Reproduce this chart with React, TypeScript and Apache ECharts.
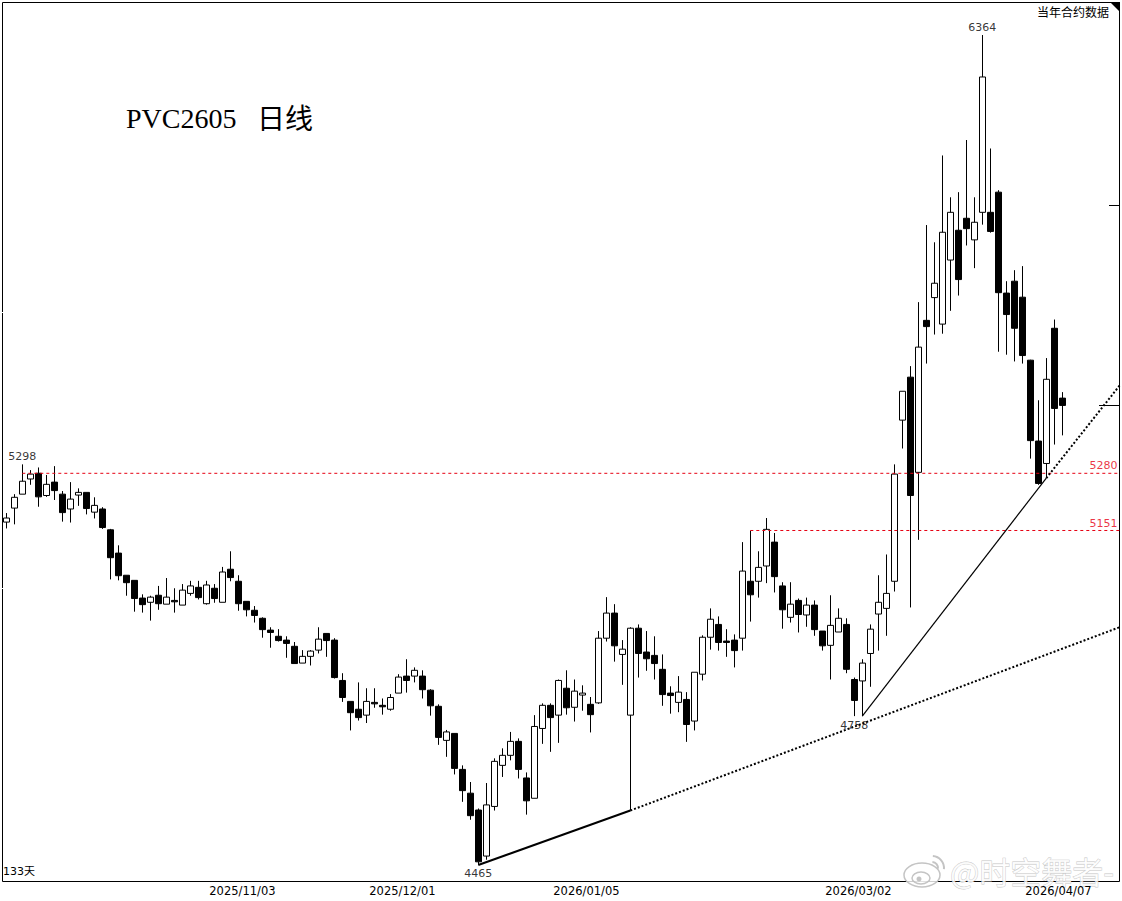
import React, { useEffect, useRef } from 'react';
import * as echarts from 'echarts';

// daily candles, oldest first (133 sessions)
const opens = [
  5169, 5200, 5231, 5265, 5278, 5228, 5258, 5231, 5198, 5229,
  5235, 5191, 5198, 5152, 5101, 5053, 5042, 5004, 4995, 5010,
  4991, 4999, 4989, 5014, 5027, 4992, 5025, 4995, 5066, 5040,
  4997, 4978, 4961, 4936, 4923, 4915, 4902, 4867, 4881, 4894,
  4929, 4915, 4831, 4788, 4772, 4760, 4786, 4780, 4772, 4805,
  4840, 4840, 4840, 4811, 4778, 4709, 4723, 4651, 4604, 4571,
  4482, 4578, 4659, 4679, 4707, 4634, 4594, 4733, 4780, 4760,
  4815, 4776, 4801, 4782, 4785, 4919, 4972, 4885, 4760, 4940,
  4890, 4883, 4854, 4805, 4786, 4792, 4748, 4844, 4921, 4948,
  4913, 4915, 4919, 5040, 5040, 5073, 5125, 5030, 4963, 4999,
  4968, 4989, 4934, 4904, 4932, 4948, 4833, 4830, 4887, 4970,
  4982, 5040, 5399, 5499, 5280, 5634, 5689, 5625, 5781, 5855,
  5885, 5831, 5900, 5900, 5951, 5700, 5729, 5690, 5539, 5351,
  5300, 5615, 5450,
];
const closes = [
  5178, 5224, 5260, 5276, 5225, 5253, 5239, 5190, 5220, 5235,
  5199, 5206, 5157, 5091, 5052, 5037, 5003, 4990, 5006, 4992,
  5006, 4996, 5021, 5030, 5005, 5032, 5003, 5060, 5048, 4992,
  4979, 4967, 4937, 4931, 4914, 4908, 4866, 4881, 4892, 4917,
  4914, 4837, 4796, 4765, 4755, 4788, 4783, 4777, 4796, 4838,
  4831, 4852, 4812, 4779, 4715, 4726, 4653, 4609, 4560, 4471,
  4581, 4667, 4679, 4707, 4651, 4589, 4737, 4780, 4755, 4831,
  4775, 4809, 4805, 4761, 4919, 4972, 4903, 4896, 4940, 4887,
  4876, 4866, 4802, 4800, 4807, 4741, 4848, 4921, 4959, 4910,
  4910, 4893, 5062, 5011, 5070, 5153, 5050, 4979, 4991, 4969,
  4989, 4937, 4903, 4946, 4961, 4854, 4790, 4867, 4938, 4995,
  5014, 5276, 5466, 5228, 5570, 5619, 5724, 5850, 5900, 5733,
  5859, 5875, 6251, 5852, 5701, 5648, 5615, 5550, 5352, 5255,
  5494, 5426, 5433,
];
const lows = [
  5155, 5164, 5231, 5252, 5203, 5225, 5218, 5170, 5168, 5205,
  5186, 5177, 5154, 5044, 5042, 5009, 4975, 4973, 4956, 4979,
  4991, 4973, 4989, 5009, 5001, 4990, 4994, 4995, 5040, 4977,
  4965, 4952, 4920, 4899, 4912, 4878, 4866, 4867, 4862, 4887,
  4880, 4835, 4787, 4729, 4749, 4744, 4775, 4761, 4769, 4805,
  4806, 4827, 4794, 4759, 4700, 4676, 4641, 4587, 4552, 4465,
  4475, 4570, 4636, 4669, 4633, 4562, 4594, 4702, 4686, 4704,
  4761, 4747, 4769, 4725, 4783, 4912, 4870, 4822, 4570, 4837,
  4851, 4833, 4779, 4763, 4766, 4706, 4729, 4831, 4895, 4893,
  4880, 4858, 4893, 4954, 5005, 5036, 5016, 4939, 4952, 4931,
  4943, 4924, 4893, 4833, 4932, 4846, 4758, 4758, 4818, 4893,
  4924, 5018, 5334, 4984, 5130, 5531, 5600, 5602, 5657, 5694,
  5817, 5761, 5869, 5849, 5559, 5552, 5536, 5531, 5311, 5252,
  5267, 5343, 5364,
];
const highs = [
  5189, 5231, 5298, 5285, 5291, 5274, 5294, 5238, 5258, 5244,
  5235, 5224, 5202, 5154, 5118, 5053, 5042, 5012, 5009, 5030,
  5047, 5025, 5034, 5041, 5041, 5041, 5034, 5071, 5105, 5053,
  4997, 4987, 4963, 4942, 4938, 4923, 4911, 4894, 4894, 4942,
  4929, 4919, 4846, 4788, 4827, 4815, 4815, 4794, 4803, 4844,
  4875, 4858, 4852, 4813, 4782, 4730, 4723, 4659, 4626, 4574,
  4624, 4673, 4693, 4726, 4713, 4645, 4760, 4784, 4784, 4833,
  4852, 4833, 4821, 4797, 4934, 5006, 4991, 4915, 4942, 4948,
  4934, 4923, 4885, 4819, 4840, 4807, 4848, 4925, 4982, 4965,
  4938, 4927, 5125, 5150, 5105, 5178, 5145, 5038, 5038, 5003,
  5005, 4999, 4934, 5010, 4982, 4961, 4837, 4875, 4948, 5053,
  5098, 5298, 5466, 5525, 5678, 5868, 5825, 6045, 5938, 5951,
  6085, 5938, 6364, 6063, 5956, 5729, 5756, 5766, 5540, 5445,
  5544, 5636, 5464,
];

// session index of each date printed under the chart
const dateTicks = [25, 45, 68, 102, 127];
const dateLabels = ['2025/11/03', '2025/12/01', '2026/01/05', '2026/03/02', '2026/04/07'];

// the x axis runs past the last candle, the drawn lines end at its right edge
const X_MIN = -0.475;
const X_MAX = 139.15;
const Y_MIN = 4433.6;
const Y_MAX = 6453;

const lowerTrendSolid = [[59, 4465], [78, 4570]];
const lowerTrendDotted = [[78, 4570], [X_MAX, 4942]];
const upperTrendSolid = [[107, 4758], [130, 5267]];
const upperTrendDotted = [[130, 5267], [X_MAX, 5479]];

// levels as they sit in the picture, the printed numbers are in levelLabels
const level5280 = [[2, 5277.8], [X_MAX, 5277.8]];
const level5151 = [[93, 5150.5], [X_MAX, 5150.5]];
const levelLabels = [[137.15, 5280], [137.15, 5151]];

const peakLabels = [[122, 6364], [2, 5298]];
const troughLabels = [[106, 4758], [59, 4465]];

const LABEL_FONT = '"DejaVu Sans", "Noto Sans CJK SC", sans-serif';
const CJK_FONT = '"Noto Sans CJK SC", sans-serif';
const RED = '#e60012';

const lineSeries = (data: number[][], width: number, type: any, color = '#000') => ({
  type: 'line',
  data,
  showSymbol: false,
  symbol: 'none',
  silent: true,
  lineStyle: { color, width, type },
});

const labelSeries = (data: number[][], position: string, distance: number, color = '#000') => ({
  type: 'scatter',
  data,
  symbolSize: 1,
  silent: true,
  itemStyle: { color: 'rgba(0,0,0,0)' },
  label: {
    show: true,
    position,
    distance,
    color,
    fontFamily: LABEL_FONT,
    fontSize: 11,
    formatter: (p: any) => String(p.value[1]),
  },
});

const WATERMARK_STROKE = 'rgba(190,190,190,0.9)';
const WATERMARK_FILL = 'rgba(255,255,255,0.8)';

const App: React.FC = () => {
  const chartRef = useRef<HTMLDivElement>(null);

  useEffect(() => {
    if (!chartRef.current) return;
    document.body.style.margin = '0';
    const chart = echarts.init(chartRef.current, undefined, { renderer: 'svg' });

    const candles = opens.map((o, i) => [i, o, closes[i], lows[i], highs[i]]);

    chart.setOption({
      animation: false,
      backgroundColor: '#fff',
      grid: {
        show: true,
        left: 2.5,
        right: 2.5,
        top: 2.5,
        bottom: 19.5,
        borderColor: '#000',
        borderWidth: 1,
      },
      xAxis: {
        type: 'value',
        min: X_MIN,
        max: X_MAX,
        splitLine: { show: false },
        axisLine: { show: false },
        axisTick: { show: false },
        axisLabel: {
          customValues: dateTicks,
          formatter: (v: number) => dateLabels[dateTicks.indexOf(v)],
          align: 'left',
          margin: 4,
          padding: [0, 0, 0, 3],
          color: '#000',
          fontFamily: LABEL_FONT,
          fontSize: 11.5,
        },
      },
      yAxis: {
        type: 'log',
        min: Y_MIN,
        max: Y_MAX,
        splitLine: { show: false },
        axisLine: { show: false },
        axisTick: { show: false },
        axisLabel: { show: false },
      },
      series: [
        {
          type: 'candlestick',
          data: candles,
          barWidth: 6,
          silent: true,
          itemStyle: {
            color: '#fff',
            color0: '#000',
            borderColor: '#000',
            borderColor0: '#000',
            borderWidth: 1,
          },
        },
        lineSeries(level5280, 1, [3, 3], RED),
        lineSeries(level5151, 1, [3, 3], RED),
        lineSeries(lowerTrendSolid, 2, 'solid'),
        lineSeries(lowerTrendDotted, 2, [2, 2]),
        lineSeries(upperTrendSolid, 1.2, 'solid'),
        lineSeries(upperTrendDotted, 2, [2, 2]),
        labelSeries(levelLabels, 'top', 1, RED),
        labelSeries(peakLabels, 'top', 2),
        labelSeries(troughLabels, 'bottom', 3),
      ],
      graphic: [
        {
          type: 'text',
          x: 126,
          y: 104,
          style: { text: 'PVC2605', fontFamily: '"Liberation Serif", serif', fontSize: 28, fill: '#000' },
        },
        {
          type: 'text',
          x: 257,
          y: 103,
          style: { text: '日线', fontFamily: CJK_FONT, fontSize: 28, fill: '#000' },
        },
        {
          type: 'text',
          x: 1037,
          y: 5,
          style: { text: '当年合约数据', fontFamily: CJK_FONT, fontSize: 12, fill: '#000' },
        },
        {
          type: 'text',
          x: 3,
          y: 866,
          style: { text: '133天', fontFamily: LABEL_FONT, fontSize: 11, fill: '#000' },
        },
        // corner flag and the stubs of the cropped price scale
        { type: 'polygon', shape: { points: [[1110, 2], [1120, 2], [1120, 12]] }, style: { fill: '#000' } },
        { type: 'line', shape: { x1: 1109, y1: 205.5, x2: 1119, y2: 205.5 }, style: { stroke: '#000', lineWidth: 1 } },
        { type: 'line', shape: { x1: 1099, y1: 405.5, x2: 1119, y2: 405.5 }, style: { stroke: '#000', lineWidth: 1 } },
        { type: 'rect', shape: { x: 0, y: 312, width: 5, height: 1 }, style: { fill: '#fff' } },
        { type: 'rect', shape: { x: 0, y: 588, width: 5, height: 1 }, style: { fill: '#fff' } },
        // weibo watermark
        {
          type: 'group',
          z: 100,
          children: [
            { type: 'ellipse', shape: { cx: 922, cy: 875, rx: 18, ry: 12 }, style: { fill: WATERMARK_FILL, stroke: WATERMARK_STROKE, lineWidth: 1.5 } },
            { type: 'ellipse', shape: { cx: 921, cy: 878, rx: 9, ry: 6 }, style: { fill: 'rgba(255,255,255,0.4)', stroke: WATERMARK_STROKE, lineWidth: 1.5 } },
            { type: 'circle', shape: { cx: 919, cy: 879, r: 2.5 }, style: { fill: WATERMARK_STROKE } },
            { type: 'arc', shape: { cx: 932, cy: 868, r: 6, startAngle: -1.5, endAngle: 0.1 }, style: { stroke: WATERMARK_STROKE, fill: 'none', lineWidth: 2 } },
            { type: 'arc', shape: { cx: 932, cy: 868, r: 12, startAngle: -1.5, endAngle: 0.1 }, style: { stroke: WATERMARK_STROKE, fill: 'none', lineWidth: 2 } },
            {
              type: 'text',
              x: 950,
              y: 855,
              style: {
                text: '@时空舞者-',
                fontFamily: CJK_FONT,
                fontSize: 31,
                fill: WATERMARK_FILL,
                stroke: WATERMARK_STROKE,
                lineWidth: 0.8,
              },
            },
          ],
        },
      ],
    });

    return () => {
      chart.dispose();
    };
  }, []);

  return <div ref={chartRef} style={{ width: 1122, height: 901 }} aria-label="PVC2605 日线" />;
};

export default App;
